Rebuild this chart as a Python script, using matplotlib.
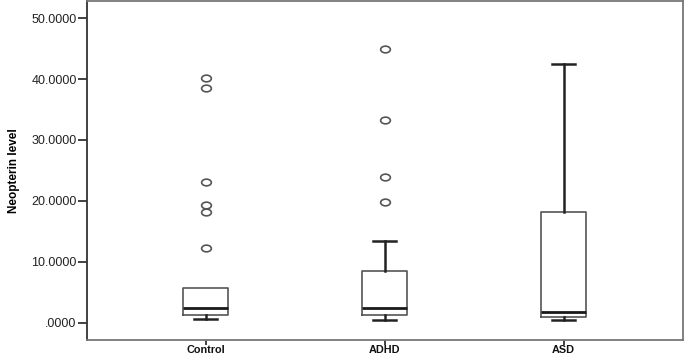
import numpy as np
import matplotlib
matplotlib.use('Agg')
import matplotlib.pyplot as plt
from matplotlib.path import Path
from matplotlib.transforms import Affine2D

plt.rcParams['font.family'] = ['Liberation Sans', 'DejaVu Sans']

###### Values ######
groups = ['Control', 'ADHD', 'ASD']
whisker_low = [0.66, 0.38, 0.38]
box_low = [1.36, 1.30, 0.92]
medians = [2.46, 2.40, 1.74]
box_high = [5.74, 8.57, 18.2]
whisker_high = [5.74, 13.4, 42.4]
outliers = [[40.2, 38.6, 23.05, 19.4, 18.1, 12.2],
            [44.97, 33.3, 24.0, 19.9],
            []]
yticks = [0, 10, 20, 30, 40, 50]
ytick_labels = ['.0000', '10.0000', '20.0000', '30.0000', '40.0000', '50.0000']

stats = []
for i in range(len(groups)):
    stats.append({'label': groups[i], 'whislo': whisker_low[i], 'q1': box_low[i],
                  'med': medians[i], 'q3': box_high[i], 'whishi': whisker_high[i],
                  'fliers': outliers[i]})

# SPSS draws the outlier circles a bit squashed
oval = Path.unit_circle().transformed(Affine2D().scale(1.45, 1.0))

fig = plt.figure(figsize=(6.85, 3.58), dpi=100)
ax = fig.add_axes([87 / 685, 18.5 / 358, (682.5 - 87) / 685, (357 - 18.5) / 358])

parts = ax.bxp(stats, positions=[1, 2, 3], widths=0.255, showfliers=True,
               boxprops=dict(color='#555555', linewidth=1.2),
               medianprops=dict(color='#1a1a1a', linewidth=2.0),
               whiskerprops=dict(color='#222222', linewidth=1.8),
               capprops=dict(color='#222222', linewidth=1.8),
               capwidths=0.125,
               flierprops=dict(marker=oval, markersize=7, markerfacecolor='none',
                               markeredgecolor='#555555', markeredgewidth=1.2))

# no upper whisker for Control (it ends at the box)
for i in range(len(groups)):
    if whisker_high[i] <= box_high[i]:
        parts['caps'][2 * i + 1].set_visible(False)
        parts['whiskers'][2 * i + 1].set_visible(False)

ax.set_xlim(0.337, 3.664)
ax.set_ylim(-2.74, 52.8)
ax.set_yticks(yticks)
ax.set_yticklabels(ytick_labels, fontsize=9, color='#222222')
ax.set_xticks([1, 2, 3])
ax.set_xticklabels(groups, fontsize=7.8, fontweight='bold', color='#111111')
ax.tick_params(axis='y', direction='out', length=6.5, width=1.3, color='#333333', pad=1)
ax.tick_params(axis='x', direction='out', length=3.8, width=1.3, color='#333333', pad=0.5)
ax.set_ylabel('Neopterin level', fontsize=8.5, fontweight='bold', labelpad=8)

for side in ['top', 'right', 'bottom', 'left']:
    ax.spines[side].set_color('#777777')
    ax.spines[side].set_linewidth(1.3)
ax.spines['left'].set_color('#333333')

fig.savefig('out.png', dpi=100)
